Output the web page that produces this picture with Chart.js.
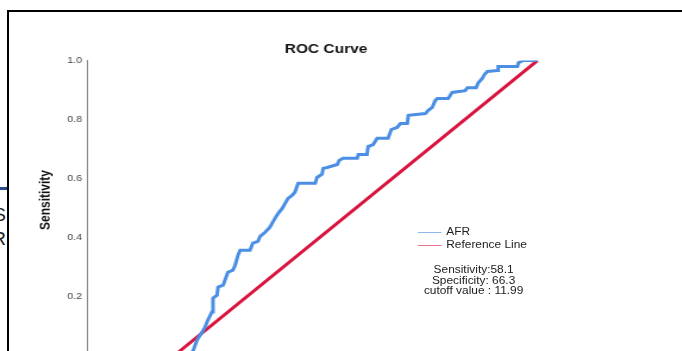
<!DOCTYPE html>
<html>
<head>
<meta charset="utf-8">
<script src="https://cdn.jsdelivr.net/npm/chart.js@4.4.1/dist/chart.umd.min.js"></script>
<style>
  html, body { margin: 0; padding: 0; background: #fff; width: 682px; height: 351px; overflow: hidden;
    font-family: "Liberation Sans", Arial, sans-serif; }
  /* the original picture is stretched sideways, so the whole chart is drawn narrow and widened */
  #stretch { position: absolute; left: 0; top: 0; width: 573px; height: 400px;
    transform: scaleX(1.19); transform-origin: 0 0; }
  #frame { position: absolute; left: 7px; top: 10px; width: 700px; height: 400px;
    border-top: 2px solid #000; border-left: 2px solid #000; }
  #side { position: absolute; left: 0; top: 0; width: 7px; height: 351px; overflow: hidden; }
  #side .bar { position: absolute; left: 0; top: 187px; width: 7px; height: 3px; background: #2b4c8c; }
  #side span { position: absolute; right: 1px; font-size: 19px; color: #222; }
  .ytitle { position: absolute; left: -2px; top: 192px; width: 80px; height: 16px; line-height: 16px;
    text-align: center; font-size: 12px; font-weight: bold; color: #111; transform: rotate(-90deg); }
  .legend { position: absolute; left: 351px; top: 225px; font-size: 10px; color: #222; }
  .legend div { height: 13px; line-height: 13px; white-space: nowrap; }
  .legend i { display: inline-block; width: 20px; height: 1px; vertical-align: middle; margin-right: 4px; }
  .note { position: absolute; left: 338px; top: 265px; width: 120px; text-align: center;
    font-size: 10px; line-height: 10.5px; color: #222; }
</style>
</head>
<body>
<div id="frame"></div>
<div id="side">
  <div class="bar"></div>
  <span style="top:204px">S</span>
  <span style="top:228px">R</span>
</div>
<div id="stretch">
  <canvas id="roc" width="573" height="400"></canvas>
  <div class="ytitle">Sensitivity</div>
  <div class="legend">
    <div><i style="background:#8ab8f0"></i>AFR</div>
    <div><i style="background:#e8798f"></i>Reference Line</div>
  </div>
  <div class="note">
    Sensitivity:58.1<br>Specificity: 66.3<br>cutoff value : 11.99
  </div>
</div>
<script>
// ROC curve vertices (1 - specificity, sensitivity)
const rocX = [0, 0.040, 0.050, 0.061, 0.075, 0.083, 0.091, 0.102, 0.105, 0.116, 0.119, 0.133,
  0.146, 0.160, 0.166, 0.174, 0.180, 0.207, 0.215, 0.229, 0.235, 0.249, 0.262, 0.276,
  0.285, 0.296, 0.304, 0.312, 0.323, 0.331, 0.340, 0.387, 0.392, 0.406, 0.409, 0.420,
  0.448, 0.453, 0.464, 0.503, 0.506, 0.530, 0.533, 0.547, 0.558, 0.588, 0.597, 0.613,
  0.622, 0.641, 0.644, 0.691, 0.699, 0.710, 0.718, 0.724, 0.754, 0.765, 0.801, 0.807,
  0.831, 0.837, 0.848, 0.854, 0.862, 0.890, 0.892, 0.945, 0.948, 0.959, 1.0];
const rocY = [0, 0, 0.014, 0.051, 0.078, 0.095, 0.119, 0.146, 0.193, 0.203, 0.231, 0.237,
  0.281, 0.288, 0.305, 0.339, 0.356, 0.356, 0.380, 0.386, 0.403, 0.417, 0.434, 0.464,
  0.481, 0.498, 0.515, 0.532, 0.542, 0.553, 0.583, 0.583, 0.603, 0.614, 0.634, 0.637,
  0.647, 0.661, 0.668, 0.668, 0.681, 0.681, 0.708, 0.715, 0.736, 0.736, 0.766, 0.773,
  0.786, 0.786, 0.814, 0.820, 0.831, 0.841, 0.864, 0.871, 0.871, 0.892, 0.898, 0.908,
  0.908, 0.925, 0.939, 0.953, 0.963, 0.966, 0.980, 0.980, 0.993, 1.0, 1.0];
const refX = [0, 1];
const refY = [0, 1];
const yTicks = [0.2, 0.4, 0.6, 0.8, 1.0];

const toPoints = (xs, ys) => xs.map((x, i) => ({ x: x, y: ys[i] }));

new Chart(document.getElementById("roc"), {
  type: "scatter",
  data: {
    datasets: [
      {
        label: "AFR",
        data: toPoints(rocX, rocY),
        showLine: true,
        borderColor: "#4a8fe3",
        borderWidth: 3,
        pointRadius: 0,
        tension: 0
      },
      {
        label: "Reference Line",
        data: toPoints(refX, refY),
        showLine: true,
        borderColor: "#d9143e",
        borderWidth: 3,
        pointRadius: 0
      }
    ]
  },
  options: {
    responsive: false,
    animation: false,
    layout: { padding: { left: 31, top: 0, right: 98, bottom: 45 } },
    plugins: {
      legend: { display: false },
      tooltip: { enabled: false },
      title: {
        display: true,
        text: "ROC Curve",
        fullSize: false,
        color: "#111",
        font: { family: "Liberation Sans", size: 13, weight: "bold" },
        padding: { top: 42, bottom: 3 }
      }
    },
    scales: {
      x: {
        type: "linear",
        min: -0.243,
        max: 1.077,
        display: false
      },
      y: {
        type: "linear",
        min: 0,
        max: 1,
        afterFit: (scale) => { scale.width = 42; },
        afterBuildTicks: (scale) => { scale.ticks = yTicks.map(v => ({ value: v })); },
        grid: { display: false, drawTicks: false },
        border: { display: true, color: "#8a8a8a", width: 1 },
        ticks: {
          padding: 4,
          color: "#444",
          font: { family: "Liberation Sans", size: 9 },
          callback: (v) => v.toFixed(1)
        }
      }
    }
  }
});
</script>
</body>
</html>
